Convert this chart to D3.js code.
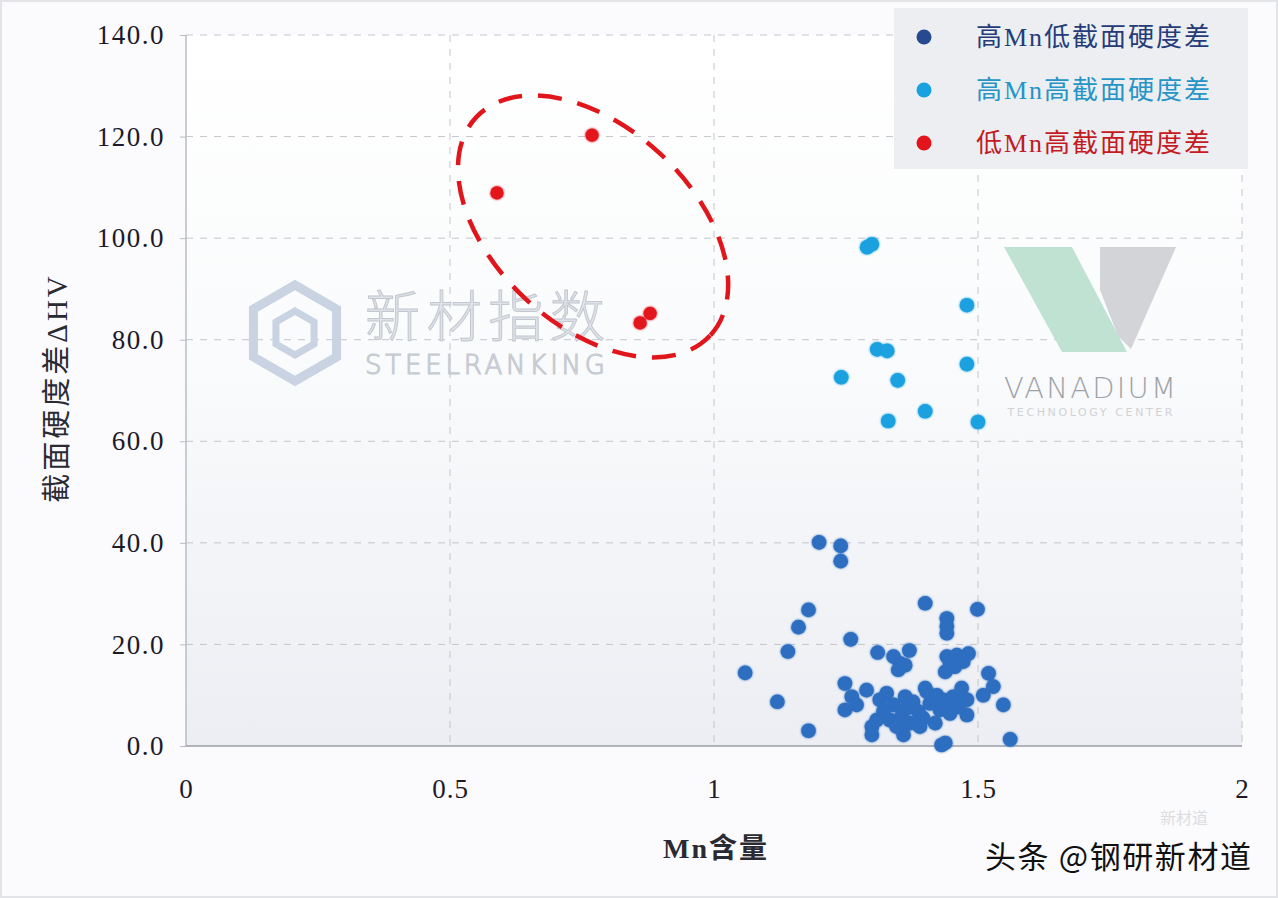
<!DOCTYPE html>
<html><head><meta charset="utf-8">
<script src="https://cdn.jsdelivr.net/npm/d3@7"></script>
<style>body{margin:0;background:#fafbfc;}svg{display:block;}</style>
</head><body>
<svg id="c" width="1278" height="898"></svg>
<script>
// ---- data ----
const seriesNames = ["高Mn低截面硬度差", "高Mn高截面硬度差", "低Mn高截面硬度差"];
const xTicks = [0, 0.5, 1, 1.5, 2];
const xTickLabels = ["0", "0.5", "1", "1.5", "2"];
const yTicks = [0, 20, 40, 60, 80, 100, 120, 140];
const yTickLabels = ["0.0", "20.0", "40.0", "60.0", "80.0", "100.0", "120.0", "140.0"];
const blueMn = [1.199,1.240,1.240,1.400,1.499,1.441,1.441,1.441,1.179,1.160,1.259,1.140,1.059,1.120,1.179,1.310,1.370,1.340,1.352,1.349,1.362,1.441,1.460,1.482,1.447,1.438,1.456,1.472,1.520,1.529,1.510,1.548,1.561,1.431,1.438,1.248,1.261,1.270,1.248,1.289,1.299,1.299,1.359,1.419,1.479,1.479,1.469,1.400,1.314,1.327,1.340,1.321,1.308,1.333,1.355,1.365,1.377,1.387,1.396,1.409,1.422,1.434,1.428,1.447,1.453,1.403,1.371,1.346,1.447,1.463,1.390,1.362];
const blueHV = [40.1,39.4,36.4,28.1,26.9,25.1,23.6,22.2,26.8,23.4,21.0,18.6,14.4,8.7,3.0,18.4,18.8,17.6,16.3,15.0,15.9,17.6,17.9,18.2,16.3,14.6,15.6,16.6,14.3,11.7,10.0,8.1,1.3,0.2,0.6,12.3,9.7,8.1,7.1,11.0,3.8,2.2,2.2,4.5,6.1,9.1,11.4,11.4,9.1,10.4,8.1,6.8,5.1,5.1,5.8,7.4,8.7,6.8,5.5,8.4,10.0,9.1,7.1,8.1,9.7,10.7,4.5,3.8,6.4,7.7,3.8,9.7];
const cyanMn = [1.290,1.299,1.479,1.309,1.328,1.479,1.241,1.348,1.400,1.330,1.500];
const cyanHV = [98.2,98.8,86.8,78.1,77.8,75.2,72.6,72.0,65.9,64.0,63.8];
const redMn = [0.589,0.769,0.860,0.879];
const redHV = [108.9,120.3,83.3,85.2];
const xTitle = "Mn含量";
const yTitle = "截面硬度差ΔHV";

// ---- layout ----
const svg = d3.select("#c");
const W = 1278, H = 898;
const pLeft = 186, pRight = 1242, pTop = 35, pBottom = 746;
const x = d3.scaleLinear().domain([0, 2]).range([pLeft, pRight]);
const y = d3.scaleLinear().domain([0, 140]).range([pBottom, pTop]);
const serif = "'Liberation Serif','Noto Sans CJK SC',serif";
const cjk = "'Liberation Serif','Noto Sans CJK SC',sans-serif";

const defs = svg.append("defs");
const g1 = defs.append("linearGradient").attr("id","bg").attr("x1",0).attr("y1",0).attr("x2",0).attr("y2",1);
g1.append("stop").attr("offset","0%").attr("stop-color","#ffffff");
g1.append("stop").attr("offset","45%").attr("stop-color","#fafbfc");
g1.append("stop").attr("offset","100%").attr("stop-color","#eceef3");
const blur = defs.append("filter").attr("id","glow").attr("x","-50%").attr("y","-50%").attr("width","200%").attr("height","200%");
blur.append("feGaussianBlur").attr("in","SourceGraphic").attr("stdDeviation",1.2).attr("result","b");
const fm = blur.append("feMerge"); fm.append("feMergeNode").attr("in","b"); fm.append("feMergeNode").attr("in","SourceGraphic");

svg.append("rect").attr("x",0.5).attr("y",0.5).attr("width",W-1).attr("height",H-1)
  .attr("fill","#fbfbfd").attr("stroke","#e2e4e8").attr("stroke-width",3);

svg.append("rect").attr("x",pLeft).attr("y",pTop).attr("width",pRight-pLeft).attr("height",pBottom-pTop).attr("fill","url(#bg)");

const grid = svg.append("g").attr("stroke","#c4c6cb").attr("stroke-width",1).attr("stroke-dasharray","7,7");
grid.selectAll("line.h").data(yTicks.filter(d=>d>0)).join("line").attr("class","h")
  .attr("x1",pLeft).attr("x2",pRight).attr("y1",d=>y(d)).attr("y2",d=>y(d));
grid.selectAll("line.v").data(xTicks.filter(d=>d>0)).join("line").attr("class","v")
  .attr("x1",d=>x(d)).attr("x2",d=>x(d)).attr("y1",pTop).attr("y2",pBottom);

// watermarks (behind data)
const wm = svg.append("g");
const hex = d3.range(6).map(i=>{const a=Math.PI/3*i+Math.PI/6;return [295+48*Math.cos(a),333+48*Math.sin(a)];});
wm.append("polygon").attr("points",hex.map(p=>p.join(",")).join(" ")).attr("fill","none").attr("stroke","#c9d3e2").attr("stroke-width",9);
const hex2 = d3.range(6).map(i=>{const a=Math.PI/3*i+Math.PI/6;return [295+22*Math.cos(a),333+22*Math.sin(a)];});
wm.append("polygon").attr("points",hex2.map(p=>p.join(",")).join(" ")).attr("fill","none").attr("stroke","#c9d3e2").attr("stroke-width",7);
wm.append("text").attr("x",365).attr("y",336).attr("font-family","'Noto Sans CJK SC'").attr("font-weight",300).attr("font-size",55)
  .attr("fill","#dfe2e8").attr("stroke","#c3c7cf").attr("stroke-width",1).attr("textLength",240).text("新材指数");
wm.append("text").attr("x",365).attr("y",374).attr("font-family","'DejaVu Sans'").attr("font-weight",300).attr("font-size",26)
  .attr("fill","none").attr("stroke","#c6cad1").attr("stroke-width",1.2).attr("textLength",240).text("STEELRANKING");
wm.append("polygon").attr("points","1004,247 1072,247 1127,352 1062,352").attr("fill","#bfe2d2");
wm.append("polygon").attr("points","1100,247 1176,247 1131,349 1118,336 1100,290").attr("fill","#d2d4d8");
wm.append("text").attr("x",1090).attr("y",398).attr("text-anchor","middle").attr("font-family","'DejaVu Sans'").attr("font-weight",300)
  .attr("font-size",29).attr("fill","#9fa3a8").attr("textLength",172).text("VANADIUM");
wm.append("text").attr("x",1090).attr("y",416).attr("text-anchor","middle").attr("font-family","'DejaVu Sans'")
  .attr("font-size",11).attr("fill","#d0d2d6").attr("textLength",165).text("TECHNOLOGY CENTER");

svg.append("line").attr("x1",pLeft).attr("x2",pLeft).attr("y1",pTop).attr("y2",pBottom).attr("stroke","#b9bcc2").attr("stroke-width",1.5);
svg.append("line").attr("x1",pLeft).attr("x2",pRight).attr("y1",pBottom).attr("y2",pBottom).attr("stroke","#b0b3b9").attr("stroke-width",2);

const yAxis = d3.axisLeft(y).tickValues(yTicks).tickSize(6).tickFormat((d,i)=>yTickLabels[i]);
const ya = svg.append("g").attr("transform",`translate(${pLeft},0)`).call(yAxis);
ya.select(".domain").remove();
ya.selectAll(".tick line").attr("stroke","#b9bcc2");
ya.selectAll(".tick text").attr("x",-21).attr("font-family",serif).attr("font-size",27).attr("letter-spacing",1.5).attr("fill","#1c1a2a");

const xAxis = d3.axisBottom(x).tickValues(xTicks).tickSize(0).tickFormat((d,i)=>xTickLabels[i]);
const xa = svg.append("g").attr("transform",`translate(0,${pBottom})`).call(xAxis);
xa.select(".domain").remove();
xa.selectAll(".tick text").attr("dy",0).attr("y",52).attr("font-family",serif).attr("font-size",27).attr("letter-spacing",1).attr("fill","#1c1a2a");

svg.append("text").attr("x",716).attr("y",858).attr("text-anchor","middle").attr("font-family",cjk)
  .attr("font-weight","bold").attr("font-size",28).attr("letter-spacing",2).attr("fill","#2a2a33").text(xTitle);
svg.append("text").attr("transform","translate(67,388) rotate(-90)").attr("text-anchor","middle").attr("font-family",cjk)
  .attr("font-size",29).attr("letter-spacing",3).attr("fill","#2a2a33").text(yTitle);

const series = [
  {mn: blueMn, hv: blueHV, fill: "#2d6ec1", r: 7.3},
  {mn: cyanMn, hv: cyanHV, fill: "#1aa1e0", r: 7.3},
  {mn: redMn,  hv: redHV,  fill: "#e3141b", r: 6.6}
];
series.forEach(s=>{
  svg.append("g").attr("filter","url(#glow)").selectAll("circle").data(s.mn.map((m,i)=>[m,s.hv[i]])).join("circle")
    .attr("cx",d=>x(d[0])).attr("cy",d=>y(d[1])).attr("r",s.r).attr("fill",s.fill);
});

svg.append("ellipse").attr("cx",0).attr("cy",0).attr("rx",160).attr("ry",99)
  .attr("transform",`translate(${x(0.771)},${y(102.3)}) rotate(43)`)
  .attr("fill","none").attr("stroke","#e0161c").attr("stroke-width",4.5).attr("stroke-dasharray","24,16");

const lg = svg.append("g");
lg.append("rect").attr("x",894).attr("y",8).attr("width",354).attr("height",161).attr("fill","#eceef2");
const legCol = ["#27498f","#1aa1e0","#e3141b"];
const legTxt = ["#263c78","#2694c6","#c41a22"];
seriesNames.forEach((n,i)=>{
  const cy = 37 + i*53;
  lg.append("circle").attr("cx",924).attr("cy",cy).attr("r",7.5).attr("fill",legCol[i]);
  lg.append("text").attr("x",976).attr("y",cy+9).attr("font-family",cjk).attr("font-size",26).attr("textLength",234).attr("fill",legTxt[i]).text(n);
});

svg.append("text").attr("x",1160).attr("y",824).attr("font-family","'Noto Sans CJK SC'").attr("font-size",16)
  .attr("fill","#dcdde0").text("新材道");
svg.append("text").attr("x",985).attr("y",868).attr("font-family","'Noto Sans CJK SC'").attr("font-size",31)
  .attr("textLength",266).attr("fill","#111").attr("stroke","#fff").attr("stroke-width",0.6).attr("paint-order","stroke").text("头条 @钢研新材道");
</script>
</body></html>
